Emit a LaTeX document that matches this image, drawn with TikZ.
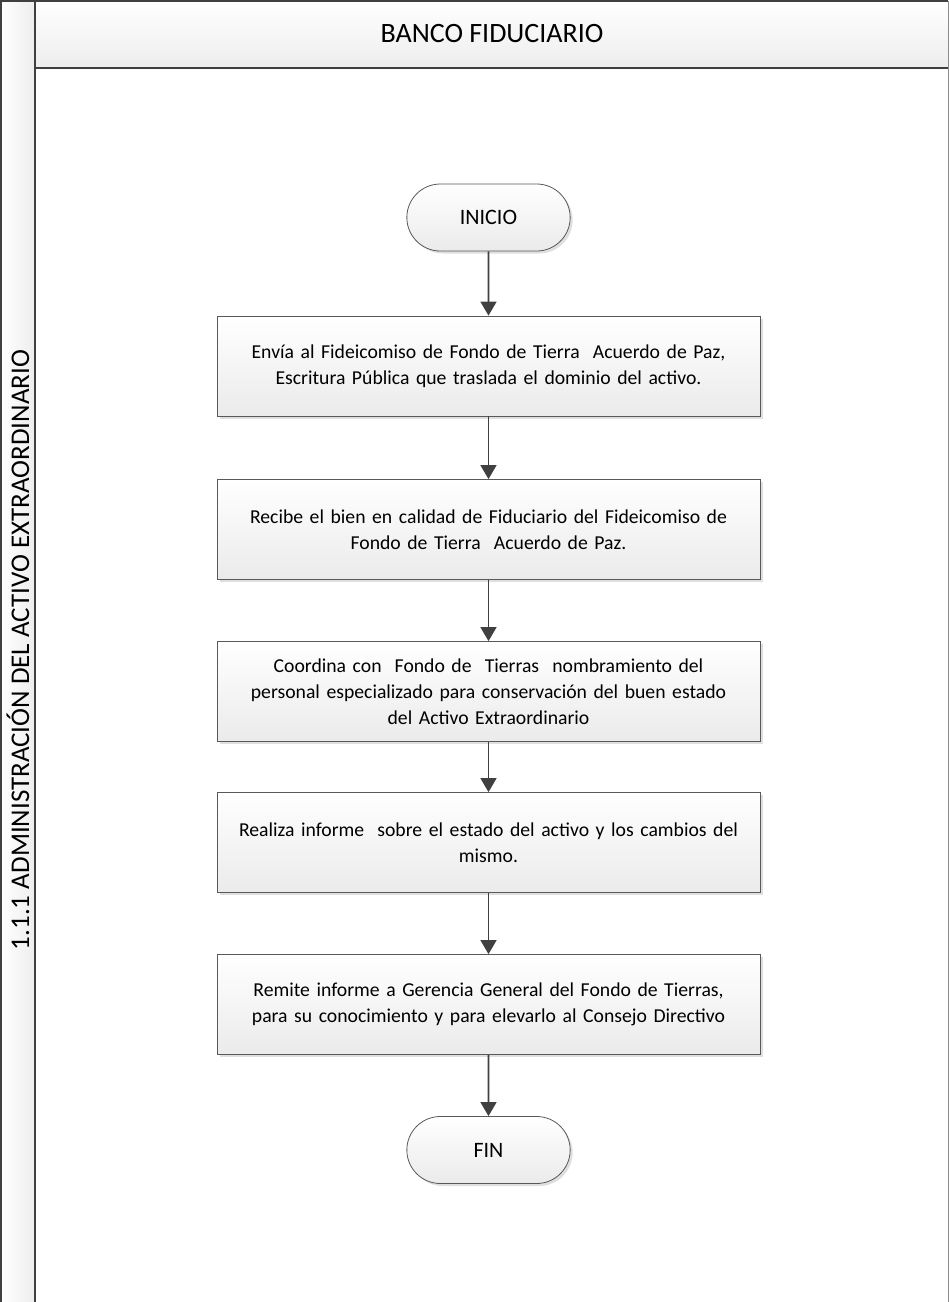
\documentclass[tikz,border=0pt]{standalone}
\usepackage{fontspec}
\setmainfont{Carlito}
\usetikzlibrary{arrows.meta}
\usetikzlibrary{shapes.misc}
\usetikzlibrary{shadows}

\begin{document}
\begin{tikzpicture}[x=1pt, y=-1pt,
    frame/.style = {draw=black!75, line width=2pt},
    stepbox/.style = {rectangle, draw=black!65, line width=0.8pt,
                top color=white, bottom color=black!8,
                drop shadow={shadow xshift=2.5pt, shadow yshift=-2.5pt, fill=black!25},
                minimum width=543pt, minimum height=100pt,
                text width=534pt, align=center,
                font=\fontsize{19.7}{26}\selectfont},
    term/.style = {rounded rectangle, draw=black!65, line width=0.8pt,
                top color=white, bottom color=black!8,
                drop shadow={shadow xshift=2.5pt, shadow yshift=-2.5pt, fill=black!25},
                minimum width=170pt, minimum height=67pt,
                font=\fontsize{22}{26}\selectfont},
    flow/.style = {draw=black!75, line width=1.6pt,
                -{Triangle[length=14pt, width=16pt]}}
                    ]
        \useasboundingbox (0,0) rectangle (949,1302);
        % pool and lane
        \path[left color=white, right color=black!7] (1,1) rectangle (35,1302);
        \path[top color=white, bottom color=black!7] (35,1) rectangle (948,68);
        \draw[frame] (1,1310) -- (1,1) -- (948,1);
        \draw[frame] (35,1310) -- (35,1);
        \draw[frame] (35,68) -- (948,68);
        \draw[black!45, line width=1pt] (948,1) -- (948,1310);
        \node[font=\fontsize{28}{32}\selectfont] at (492,34) (header) {BANCO FIDUCIARIO};
        \node[rotate=90, font=\fontsize{27}{31}\selectfont] at (18,650) (lanetitle)
            {1.1.1 ADMINISTRACIÓN DEL ACTIVO EXTRAORDINARIO};
        % flow
        \node[term] at (488.5,217.5) (inicio) {INICIO};
        \foreach \y/\n/\t in {
            366/s1/{Envía al Fideicomiso de Fondo de Tierra\ \ Acuerdo de Paz,\\Escritura Pública que traslada el dominio del activo.},
            529.5/s2/{Recibe el bien en calidad de Fiduciario del Fideicomiso de\\Fondo de Tierra\ \ Acuerdo de Paz.},
            691.5/s3/{Coordina con\ \ Fondo de\ \ Tierras\ \ nombramiento del\\personal especializado para conservación del buen estado\\del Activo Extraordinario},
            842.5/s4/{Realiza informe\ \ sobre el estado del activo y los cambios del\\mismo.},
            1004.5/s5/{Remite informe a Gerencia General del Fondo de Tierras,\\para su conocimiento y para elevarlo al Consejo Directivo}}
            \node[stepbox] at (488.5,\y) (\n) {\t};
        \node[term] at (488.5,1150) (fin) {FIN};
        \foreach \a/\b in {inicio/s1, s1/s2, s2/s3, s3/s4, s4/s5, s5/fin}
            \draw[flow] (\a) -- (\b);
    \end{tikzpicture}
\end{document}
